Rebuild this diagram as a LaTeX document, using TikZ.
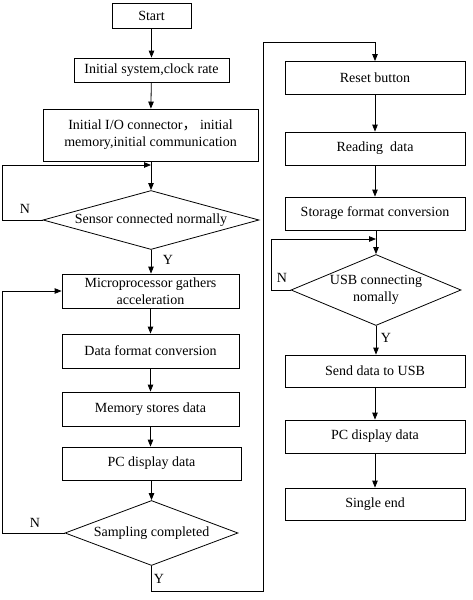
\documentclass[tikz,border=0pt]{standalone}
\usepackage{fontspec}
\setmainfont{Liberation Serif}
\newfontfamily\cjk{Noto Sans CJK SC}
\usetikzlibrary{arrows.meta, shapes.geometric}

\begin{document}
\begin{tikzpicture}[
  x=1pt, y=-1pt,
  font=\fontsize{14}{17}\selectfont,
  line width=0.8pt,
  box/.style={draw, inner sep=0pt, align=center},
  decision/.style={draw, diamond, inner sep=0pt},
  flow/.style={-{Triangle[length=7pt,width=5.5pt]}},
  yn/.style={inner sep=0pt}
]
\useasboundingbox (0,0) rectangle (472,600);

% --- Coluna esquerda ---
\node[box, minimum width=79, minimum height=25] (start) at (151.5,16) {Start};
\node[box, minimum width=155, minimum height=24] (sys) at (151.5,70) {Initial system,clock rate};
\node[box, minimum width=215, minimum height=52] (init) at (150.5,135)
  {Initial I/O connector{\cjk ，}\ initial\\memory,initial communication};
\node[decision, minimum width=216, minimum height=59,
  label={center:Sensor connected normally}] (chk) at (151,220) {};
\node[box, minimum width=177, minimum height=34] (gather) at (150.5,291)
  {Microprocessor gathers\\acceleration};
\node[box, minimum width=177, minimum height=34] (fmt) at (150.5,351) {Data format conversion};
\node[box, minimum width=177, minimum height=34] (mem) at (150.5,409) {Memory stores data};
\node[box, minimum width=179, minimum height=33] (pcl) at (151.5,463.5) {PC display data};
\node[decision, minimum width=173, minimum height=65,
  label={center:Sampling completed}] (samp) at (151.5,533) {};

% --- Coluna direita ---
\node[box, minimum width=180, minimum height=33] (reset) at (375,78) {Reset button};
\node[box, minimum width=180, minimum height=33] (read) at (375,148.5) {Reading\ \ data};
\node[box, minimum width=180, minimum height=33] (conv) at (375,213.5) {Storage format conversion};
\node[decision, minimum width=170, minimum height=71,
  label={[align=center]center:USB connecting\\nomally}] (usb) at (376,290) {};
\node[box, minimum width=180, minimum height=32] (send) at (375,371) {Send data to USB};
\node[box, minimum width=180, minimum height=33] (pcr) at (375,436.5) {PC display data};
\node[box, minimum width=180, minimum height=32] (fin) at (375,504) {Single end};

% --- Pontos de junção ---
\coordinate (jChk) at (151,165);
\coordinate (jUsb) at (376,239);
\coordinate (turnA) at (263,591);
\coordinate (turnB) at (263,42);

% --- Conexões principais ---
\draw[flow] (start) -- (sys);
\draw[flow] (sys) -- (init);
\draw[flow] (init.south -| chk.north) -- (chk.north);
\draw[flow] (chk.south) -- (gather.north -| chk.south);
\draw[flow] (gather) -- (fmt);
\draw[flow] (fmt) -- (mem);
\draw[flow] (mem) -- (mem |- pcl.north);
\draw[flow] (pcl) -- (samp);
\draw[flow] (samp.south) |- (turnA) -- (turnB) -| (reset.north);
\draw[flow] (reset) -- (read);
\draw[flow] (read) -- (conv);
\draw[flow] (conv.south -| usb.north) -- (usb.north);
\draw[flow] (usb.south) -- (send.north -| usb.south);
\draw[flow] (send) -- (pcr);
\draw[flow] (pcr) -- (fin);

% --- Laços de retorno ---
\draw[flow] (chk.west) -- ++(-40,0) |- (jChk);
\draw[flow] (samp.west) -- ++(-62,0) |- (gather.west);
\draw[flow] (usb.west) -- ++(-19,0) |- (jUsb);

% --- Rótulos Y/N ---
\node[yn] (nChk) at (25,209) {N};
\node[yn] (yChk) at (168,260) {Y};
\node[yn] (nSamp) at (35,523) {N};
\node[yn] (ySamp) at (159,579) {Y};
\node[yn] (nUsb) at (282,278) {N};
\node[yn] (yUsb) at (386,338) {Y};

\end{tikzpicture}
\end{document}
